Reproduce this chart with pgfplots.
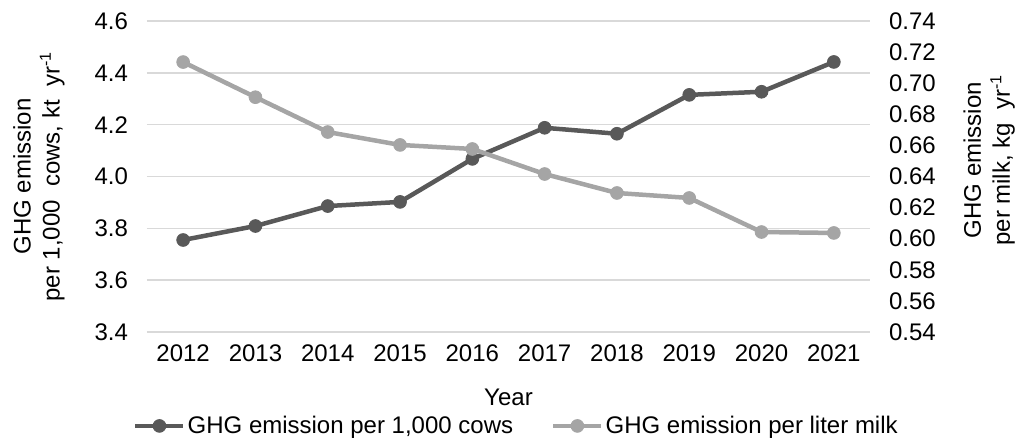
\documentclass[border=0pt]{standalone}
\usepackage{fontspec}
\setmainfont{Liberation Sans}
\usepackage{pgfplots}
\pgfplotsset{compat=1.18}
\definecolor{darkser}{HTML}{595959}
\definecolor{lightser}{HTML}{A5A5A5}
\definecolor{gridc}{HTML}{D9D9D9}
\begin{document}
\begin{tikzpicture}
\path[use as bounding box] (-73.5pt,-54.5pt) rectangle (439pt,166pt);
\begin{axis}[
  at={(0,0)}, anchor=south west,
  scale only axis, width=361.5pt, height=155.5pt,
  xmin=-0.5, xmax=9.5, ymin=3.4, ymax=4.6,
  xtick={0,...,9}, xticklabels={2012,2013,2014,2015,2016,2017,2018,2019,2020,2021},
  ytick={3.4,3.6,...,4.61},
  axis x line*=bottom, axis y line*=left,
  axis line style={draw=none},
  major tick length=0pt,
  ymajorgrids, grid style={gridc, line width=0.75pt},
  /pgf/number format/assume math mode=true,
  yticklabel style={/pgf/number format/fixed, /pgf/number format/precision=1, /pgf/number format/fixed zerofill},
  ticklabel style={font=\fontsize{12}{14}\selectfont},
  xticklabel style={yshift=-3pt},
  yticklabel style={xshift=-6pt},
  xlabel={Year},
  xlabel style={font=\fontsize{12}{14}\selectfont, at={(axis description cs:0.5,-0.209)}, anchor=center},
  ylabel={GHG emission\\per 1,000\ \ cows, kt\ \ yr\textsuperscript{-1}},
  ylabel style={font=\fontsize{12}{14.5}\selectfont, align=center, at={(axis description cs:-0.1496,0.5)}, anchor=center},
  clip=false,
]
\addplot[color=darkser, line width=2.25pt, mark=*, mark size=3.2pt, mark options={fill=darkser, draw=darkser, line width=0.4pt}]
  coordinates {(0,3.755)(1,3.809)(2,3.886)(3,3.902)(4,4.068)(5,4.188)(6,4.165)(7,4.315)(8,4.327)(9,4.442)};
\end{axis}
\begin{axis}[
  at={(0,0)}, anchor=south west,
  scale only axis, width=361.5pt, height=155.5pt,
  xmin=-0.5, xmax=9.5, ymin=0.54, ymax=0.74,
  ytick={0.54,0.56,...,0.741},
  axis x line=none, axis y line*=right,
  axis line style={draw=none},
  major tick length=0pt,
  /pgf/number format/assume math mode=true,
  yticklabel style={/pgf/number format/fixed, /pgf/number format/precision=2, /pgf/number format/fixed zerofill, xshift=6pt},
  ticklabel style={font=\fontsize{12}{14}\selectfont},
  ylabel={GHG emission\\per milk, kg\ \ yr\textsuperscript{-1}},
  ylabel style={font=\fontsize{12}{14.5}\selectfont, align=center, at={(axis description cs:1.165,0.553)}, anchor=center},
  legend style={at={(axis description cs:0.511,-0.302)}, anchor=center, draw=none, fill=none, inner sep=0pt,
    font=\fontsize{12}{14}\selectfont, legend columns=2,
    /tikz/every even column/.append style={column sep=18pt},
    nodes={inner xsep=1pt}},
  legend image code/.code={\draw[mark repeat=2, mark phase=2, #1] plot coordinates {(0pt,0pt)(12pt,0pt)(24pt,0pt)};},
  clip=false,
]
\addlegendimage{color=darkser, line width=2.25pt, mark=*, mark size=3.2pt, mark options={fill=darkser, draw=darkser, line width=0.4pt}}
\addlegendentry{GHG emission per 1,000 cows}
\addplot[color=lightser, line width=2.25pt, mark=*, mark size=3.2pt, mark options={fill=lightser, draw=lightser, line width=0.4pt}]
  coordinates {(0,0.7136)(1,0.691)(2,0.6686)(3,0.6603)(4,0.6577)(5,0.6416)(6,0.6294)(7,0.6262)(8,0.6043)(9,0.6037)};
\addlegendentry{GHG emission per liter milk}
\end{axis}
\end{tikzpicture}
\end{document}
